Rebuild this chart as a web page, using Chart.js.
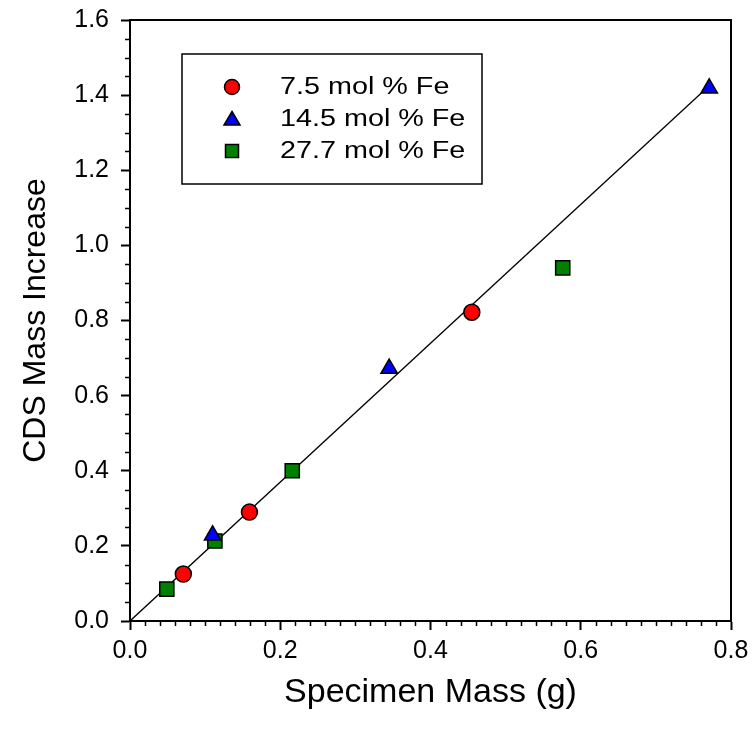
<!DOCTYPE html>
<html>
<head>
<meta charset="utf-8">
<script src="https://cdn.jsdelivr.net/npm/chart.js@4"></script>
<style>
  html, body { margin: 0; padding: 0; background: #fff; }
  #wrap { width: 753px; height: 735px; }
</style>
</head>
<body>
<div id="wrap"><canvas id="chart" width="753" height="735"></canvas></div>
<script>
// CDS mass increase vs specimen mass, three Fe contents + fitted line.
const fe75X = [0.071, 0.159, 0.455];
const fe75Y = [0.125, 0.290, 0.822];
const fe145X = [0.110, 0.345, 0.771];
const fe145Y = [0.228, 0.672, 1.418];
const fe277X = [0.049, 0.113, 0.216, 0.576];
const fe277Y = [0.085, 0.213, 0.400, 0.940];
const fitX = [0, 0.771];
const fitY = [0, 1.425];
const labels = ['7.5 mol % Fe', '14.5 mol % Fe', '27.7 mol % Fe'];

const FONT = 'Arial, "Liberation Sans", sans-serif';
const pts = (xs, ys) => xs.map((x, i) => ({ x, y: ys[i] }));
const isMajor = (v, step) => Math.abs(v / step - Math.round(v / step)) < 1e-6;

// frame, minor ticks and the in-plot legend
const extras = {
  id: 'extras',
  afterDraw(c) {
    const ctx = c.ctx, a = c.chartArea, sx = c.scales.x, sy = c.scales.y;
    ctx.save();
    ctx.strokeStyle = '#000';
    ctx.lineWidth = 2;
    ctx.strokeRect(a.left, a.top, a.right - a.left, a.bottom - a.top);
    ctx.lineWidth = 1.5;
    ctx.beginPath();
    sx.ticks.forEach((t) => { if (!isMajor(t.value, 0.2)) { const p = Math.round(sx.getPixelForValue(t.value)) + 0.5; ctx.moveTo(p, a.bottom); ctx.lineTo(p, a.bottom + 5); } });
    sy.ticks.forEach((t) => { if (!isMajor(t.value, 0.2)) { const p = Math.round(sy.getPixelForValue(t.value)) + 0.5; ctx.moveTo(a.left, p); ctx.lineTo(a.left - 5, p); } });
    ctx.stroke();

    // legend box
    const bx = 182, by = 54, bw = 300, bh = 130;
    ctx.lineWidth = 1.5;
    ctx.strokeRect(bx, by, bw, bh);
    ctx.font = '23px ' + FONT;
    ctx.textBaseline = 'middle';
    c.data.datasets.slice(0, 3).forEach((d, i) => {
      const y = by + 33 + i * 32;
      const mx = bx + 50;
      ctx.fillStyle = d.backgroundColor;
      ctx.strokeStyle = '#000';
      ctx.lineWidth = 1.5;
      ctx.beginPath();
      if (d.pointStyle === 'circle') ctx.arc(mx, y, 7.5, 0, Math.PI * 2);
      else if (d.pointStyle === 'triangle') { ctx.moveTo(mx, y - 7.5); ctx.lineTo(mx + 8, y + 6); ctx.lineTo(mx - 8, y + 6); ctx.closePath(); }
      else ctx.rect(mx - 6.5, y - 6.5, 13, 13);
      ctx.fill(); ctx.stroke();
      ctx.fillStyle = '#000';
      ctx.save();
      ctx.translate(bx + 98, y + 1);
      ctx.scale(1.25, 1);
      ctx.fillText(d.label, 0, 0);
      ctx.restore();
    });
    ctx.restore();
  }
};

new Chart(document.getElementById('chart'), {
  type: 'scatter',
  data: {
    datasets: [
      { label: labels[0], data: pts(fe75X, fe75Y), pointStyle: 'circle', pointRadius: 8, backgroundColor: '#ff0000', borderColor: '#000', borderWidth: 1.5, order: 1 },
      { label: labels[1], data: pts(fe145X, fe145Y), pointStyle: 'triangle', pointRadius: 9.5, backgroundColor: '#0000ff', borderColor: '#000', borderWidth: 1.5, order: 1 },
      { label: labels[2], data: pts(fe277X, fe277Y), pointStyle: 'rect', pointRadius: 10, backgroundColor: '#008000', borderColor: '#000', borderWidth: 1.5, order: 1 },
      { label: 'fit', type: 'line', data: pts(fitX, fitY), borderColor: '#000', borderWidth: 1.3, pointRadius: 0, fill: false, order: 2 }
    ]
  },
  options: {
    responsive: false,
    animation: false,
    layout: { padding: { top: 20, right: 22, left: 0, bottom: 0 } },
    plugins: { legend: { display: false }, tooltip: { enabled: false } },
    scales: {
      x: {
        type: 'linear', min: 0, max: 0.8,
        afterFit: (s) => { s.height = 114; s.paddingLeft = 0; s.paddingRight = 0; },
        ticks: { stepSize: 0.02, autoSkip: false, maxRotation: 0, padding: 6, color: '#000', font: { family: FONT, size: 25 },
          callback: (v) => isMajor(v, 0.2) ? v.toFixed(1) : '' },
        grid: { drawOnChartArea: false, tickLength: 9, tickWidth: 2, tickColor: (c) => isMajor(c.tick.value, 0.2) ? '#000' : 'rgba(0,0,0,0)' },
        border: { display: true, color: '#000', width: 2 },
        title: { display: true, text: 'Specimen Mass (g)', color: '#000', font: { family: FONT, size: 34 }, padding: { top: 0, bottom: 22 } }
      },
      y: {
        type: 'linear', min: 0, max: 1.6,
        afterFit: (s) => { s.width = 130; s.paddingTop = 0; s.paddingBottom = 0; },
        ticks: { stepSize: 0.05, autoSkip: false, padding: 12, color: '#000', font: { family: FONT, size: 25 },
          callback: (v) => isMajor(v, 0.2) ? v.toFixed(1) : '' },
        grid: { drawOnChartArea: false, tickLength: 9, tickWidth: 2, tickColor: (c) => isMajor(c.tick.value, 0.2) ? '#000' : 'rgba(0,0,0,0)' },
        border: { display: true, color: '#000', width: 2 },
        title: { display: true, text: 'CDS Mass Increase', color: '#000', font: { family: FONT, size: 32 }, padding: { top: 17, bottom: 0 } }
      }
    }
  },
  plugins: [extras]
});
</script>
</body>
</html>
